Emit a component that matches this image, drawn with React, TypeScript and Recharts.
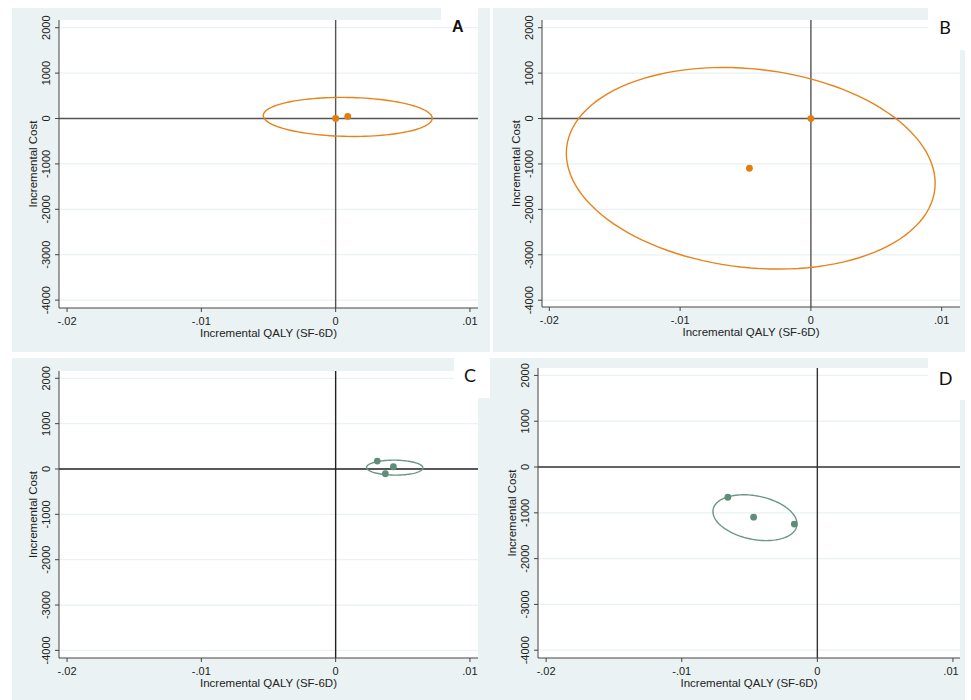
import React from "react";
import {
  ScatterChart,
  Scatter,
  XAxis,
  YAxis,
  CartesianGrid,
  ReferenceLine,
} from "recharts";

// tick labels
const xTicks = [-0.02, -0.01, 0, 0.01];
const yTicks = [-4000, -3000, -2000, -1000, 0, 1000, 2000];

// bootstrap points per panel
const pointsA = [
  { x: 0, y: 0 },
  { x: 0.0009, y: 45 },
];
const pointsB = [
  { x: 0, y: 0 },
  { x: -0.0047, y: -1095 },
];
const pointsC = [
  { x: 0.0031, y: 175 },
  { x: 0.0043, y: 50 },
  { x: 0.0037, y: -105 },
];
const pointsD = [
  { x: -0.0066, y: -660 },
  { x: -0.0047, y: -1095 },
  { x: -0.0017, y: -1245 },
];

// confidence ellipses: [centre x, centre y, x half-width, y shear, y half-height]
const ellipseA = [0.0009, 35, 0.00629, -30, 429];
const ellipseB = [-0.0046, -1095, 0.0141, -330, 2195];
const ellipseC = [0.0044, 30, 0.0021, -5, 165];
const ellipseD = [-0.0046, -1106, 0.0031, -134, 482];

const ORANGE = "#e8821a";
const ORANGE_DOT = "#e57d0c";
const GREEN = "#6a9884";
const GREEN_DOT = "#5f8d79";
const BG = "#eaf2f3";

function outline(e: number[]) {
  const [cx, cy, ax, sy, by] = e;
  const pts = [];
  for (let i = 0; i <= 120; i++) {
    const t = (i / 120) * Math.PI * 2;
    pts.push({ x: cx + ax * Math.cos(t), y: cy + by * Math.sin(t) + sy * Math.cos(t) });
  }
  return pts;
}

const fmtX = (v: number) => (v === 0 ? "0" : String(v).replace("0.", "."));

const XTick = ({ x, y, payload }: any) => (
  <text x={x} y={y + 8.7} dy="0.35em" textAnchor="middle" fontSize={11} fill="#222"
    fontFamily="Liberation Sans, Arial, sans-serif">
    {fmtX(payload.value)}
  </text>
);

const YTick = ({ x, y, payload }: any) => (
  <text x={x - 9} y={y} dy="0.35em" textAnchor="middle" fontSize={11} fill="#222"
    transform={`rotate(-90, ${x - 9}, ${y})`}
    fontFamily="Liberation Sans, Arial, sans-serif">
    {payload.value}
  </text>
);

const NoShape = () => <g />;
const Dot = (color: string) => (props: any) => (
  <circle cx={props.cx} cy={props.cy} r={3.4} fill={color} />
);

type PanelProps = {
  left: number;
  top: number;
  width: number;
  height: number;
  margin: { top: number; right: number; left: number; bottom: number };
  yWidth: number;
  xHeight: number;
  xDomain: number[];
  yDomain: number[];
  points: { x: number; y: number }[];
  ellipse: number[];
  line: string;
  dot: string;
  refColor: string;
};

function Panel(p: PanelProps) {
  const yTitle = (props: any) => {
    const vb = props.viewBox || {};
    const cx = vb.x + vb.width - 26;
    const cy = vb.y + vb.height / 2;
    return (
      <text x={cx} y={cy} dy="0.35em" textAnchor="middle" fontSize={11.5} fill="#222"
        transform={`rotate(-90, ${cx}, ${cy})`}
        fontFamily="Liberation Sans, Arial, sans-serif">
        Incremental Cost
      </text>
    );
  };
  const xTitle = (props: any) => {
    const vb = props.viewBox || {};
    return (
      <text x={vb.x + vb.width / 2} y={vb.y + 25} dy="0.35em" textAnchor="middle" fontSize={11.5}
        fill="#222" fontFamily="Liberation Sans, Arial, sans-serif">
        Incremental QALY (SF-6D)
      </text>
    );
  };
  return (
    <div style={{ position: "absolute", left: p.left, top: p.top }}>
      <ScatterChart width={p.width} height={p.height} margin={p.margin}>
        <CartesianGrid fill="#ffffff" stroke={BG} strokeWidth={1.2} vertical={false}
          horizontalValues={yTicks} />
        <XAxis type="number" dataKey="x" domain={p.xDomain} ticks={xTicks} height={p.xHeight}
          allowDataOverflow tickSize={4} tickMargin={0} tick={<XTick />}
          stroke="#444" label={{ content: xTitle }} />
        <YAxis type="number" dataKey="y" domain={p.yDomain} ticks={yTicks} width={p.yWidth}
          allowDataOverflow tickSize={4} tickMargin={0} tick={<YTick />}
          stroke="#444" label={{ content: yTitle }} />
        <ReferenceLine x={0} stroke={p.refColor} strokeWidth={1.4} />
        <ReferenceLine y={0} stroke={p.refColor} strokeWidth={1.4} />
        <Scatter data={outline(p.ellipse)} line={{ stroke: p.line, strokeWidth: 1.4 }}
          lineType="joint" shape={NoShape} isAnimationActive={false} />
        <Scatter data={p.points} shape={Dot(p.dot)} isAnimationActive={false} />
      </ScatterChart>
    </div>
  );
}

const box = (l: number, t: number, w: number, h: number, c: string) => (
  <div style={{ position: "absolute", left: l, top: t, width: w, height: h, background: c }} />
);

const letter = (x: number, y: number, s: string, bold: boolean) => (
  <div style={{
    position: "absolute", left: x - 10, top: y - 11, width: 20, height: 22, lineHeight: "22px",
    textAlign: "center", fontSize: bold ? 16 : 18, fontWeight: bold ? 700 : 400, color: "#111",
    fontFamily: bold ? "Liberation Sans, Arial, sans-serif" : "Lato, 'Open Sans', sans-serif",
  }}>{s}</div>
);

export default function App() {
  return (
    <div style={{ position: "absolute", left: 0, top: 0, width: 971, height: 700, background: "#fff", overflow: "hidden" }}>
      {box(12, 8, 478, 344, BG)}
      {box(493, 8, 472, 344, BG)}
      {box(12, 358, 478, 342, BG)}
      {box(490, 358, 475, 342, BG)}

      <Panel left={12} top={8} width={478} height={344}
        margin={{ top: 12, right: 12, left: 0, bottom: 0 }} yWidth={47} xHeight={44}
        xDomain={[-0.0206, 0.0106]} yDomain={[-4174, 2170]}
        points={pointsA} ellipse={ellipseA} line={ORANGE} dot={ORANGE_DOT} refColor="#555" />
      <Panel left={493} top={8} width={472} height={344}
        margin={{ top: 12, right: 5, left: 0, bottom: 0 }} yWidth={49} xHeight={45}
        xDomain={[-0.02056, 0.0114]} yDomain={[-4150, 2170]}
        points={pointsB} ellipse={ellipseB} line={ORANGE} dot={ORANGE_DOT} refColor="#555" />
      <Panel left={12} top={358} width={478} height={342}
        margin={{ top: 13, right: 12, left: 0, bottom: 0 }} yWidth={47} xHeight={42}
        xDomain={[-0.0206, 0.0106]} yDomain={[-4168, 2161]}
        points={pointsC} ellipse={ellipseC} line={GREEN} dot={GREEN_DOT} refColor="#222" />
      <Panel left={490} top={358} width={475} height={342}
        margin={{ top: 10, right: 5, left: 0, bottom: 0 }} yWidth={48} xHeight={42}
        xDomain={[-0.0206, 0.01052]} yDomain={[-4170, 2162]}
        points={pointsD} ellipse={ellipseD} line={GREEN} dot={GREEN_DOT} refColor="#333" />

      {box(441, 8, 37, 12, "#fff")}
      {box(928, 0, 37, 50, "#fff")}
      {box(454, 355, 36, 43, "#fff")}
      {box(485, 355, 5, 43, "#fff")}
      {box(928, 355, 37, 45, "#fff")}

      {letter(457.7, 26.7, "A", true)}
      {letter(945, 26.7, "B", false)}
      {letter(470, 375, "C", false)}
      {letter(945.7, 377.7, "D", false)}
    </div>
  );
}
